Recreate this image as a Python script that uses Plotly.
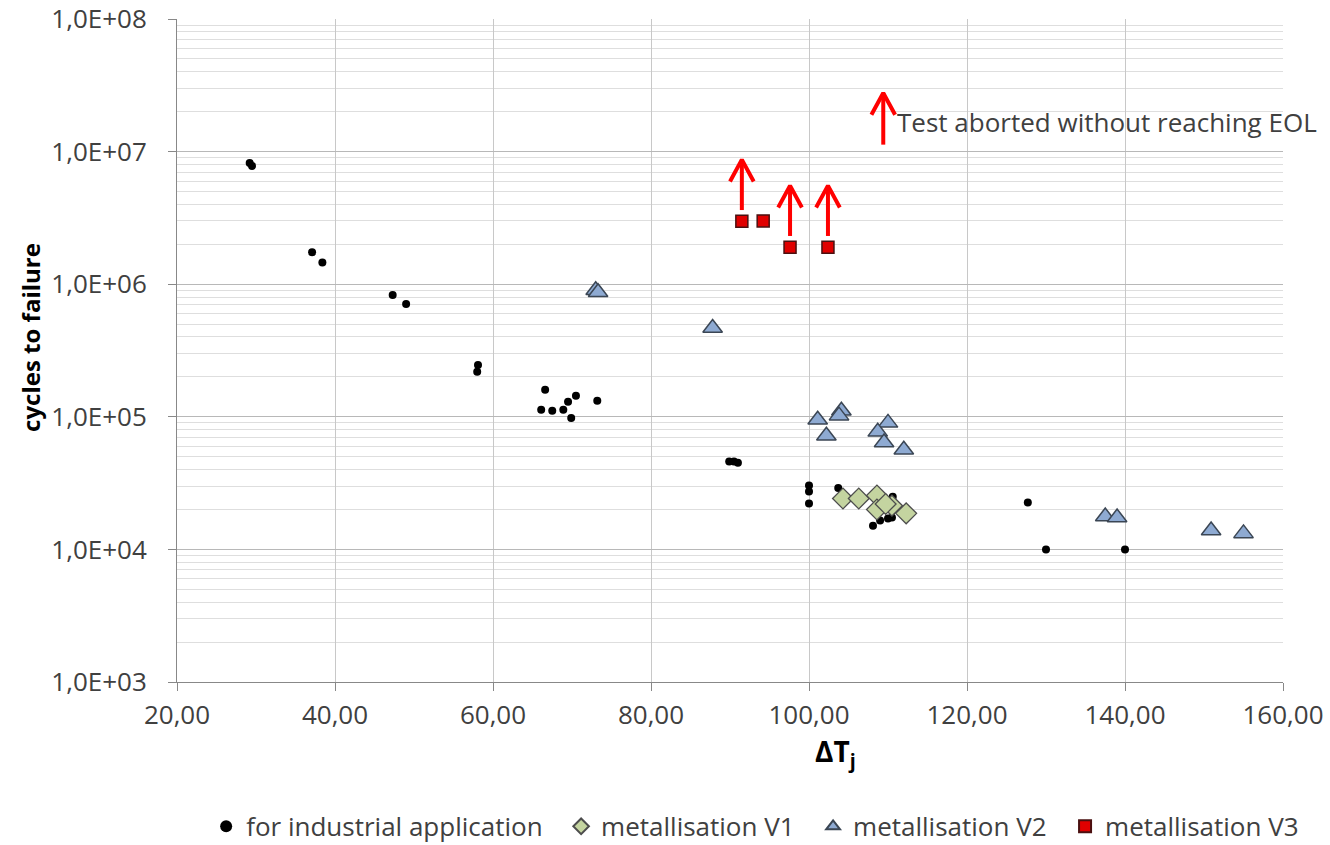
import math
import plotly.graph_objects as go

# ---- data ----
ind_x = [29.2, 29.5, 37.1, 38.4, 47.3, 49.0, 58.1, 58.0, 66.6, 66.1, 67.5, 68.9, 69.5, 70.5, 69.9, 73.2,
         89.9, 90.5, 91.0, 100.0, 100.0, 100.0, 103.7, 110.6, 108.1, 109.0, 110.0, 110.5,
         127.7, 130.0, 140.0]
ind_y = [8.2e6, 7.8e6, 1.74e6, 1.46e6, 8.3e5, 7.1e5, 2.46e5, 2.19e5, 1.6e5, 1.13e5, 1.11e5, 1.13e5, 1.30e5, 1.44e5, 9.8e4, 1.32e5,
         4.6e4, 4.6e4, 4.5e4, 3.03e4, 2.73e4, 2.22e4, 2.9e4, 2.5e4, 1.51e4, 1.65e4, 1.71e4, 1.74e4,
         2.26e4, 1.0e4, 1.0e4]

v1_x = [104.3, 106.3, 108.6, 110.5, 108.6, 112.3, 109.7]
v1_y = [2.42e4, 2.42e4, 2.55e4, 2.14e4, 2.0e4, 1.87e4, 2.2e4]

v2_x = [73.0, 73.3, 87.8, 101.1, 104.1, 103.8, 102.2, 110.0, 108.7, 109.5, 112.0, 137.5, 139.0, 150.9, 155.0]
v2_y = [9.0e5, 8.7e5, 4.67e5, 9.5e4, 1.11e5, 1.02e5, 7.2e4, 9.0e4, 7.7e4, 6.4e4, 5.65e4, 1.77e4, 1.74e4, 1.39e4, 1.32e4]

v3_x = [91.5, 94.2, 97.6, 102.4]
v3_y = [2.98e6, 3.0e6, 1.9e6, 1.9e6]
v3_aborted = [True, False, True, True]

series_names = ["for industrial application", "metallisation V1", "metallisation V2", "metallisation V3"]

x_ticks = [20, 40, 60, 80, 100, 120, 140, 160]
x_labels = ["20,00", "40,00", "60,00", "80,00", "100,00", "120,00", "140,00", "160,00"]
y_ticks = [1e3, 1e4, 1e5, 1e6, 1e7, 1e8]
y_labels = ["1,0E+03", "1,0E+04", "1,0E+05", "1,0E+06", "1,0E+07", "1,0E+08"]

note_text = "Test aborted without reaching EOL"
note_x = 109.4
note_y = 2.77e7

FONT = "Open Sans"
TXT = "#404040"
PAD = "\u00a0" * 2

fig = go.Figure()
fig.add_trace(go.Scatter(x=ind_x, y=ind_y, mode="markers", name=series_names[0] + PAD,
                         marker=dict(symbol="circle", size=8, color="black")))
fig.add_trace(go.Scatter(x=v1_x, y=v1_y, mode="markers", name=series_names[1] + PAD,
                         marker=dict(symbol="diamond", size=16, color="#c4d4a0",
                                     line=dict(color="#4d4d4d", width=1.3))))
fig.add_trace(go.Scatter(x=v2_x, y=v2_y, mode="markers", name=series_names[2] + PAD,
                         marker=dict(symbol="triangle-up", size=17, color="#8eaad2",
                                     line=dict(color="#3b4654", width=1.5))))
fig.add_trace(go.Scatter(x=v3_x, y=v3_y, mode="markers", name=series_names[3],
                         marker=dict(symbol="square", size=12, color="#e00000",
                                     line=dict(color="#4a1010", width=1.5))))


# chevron arrows (drawn in data space: log10 offsets above each aborted point)
def arrow_path(xc, log_bottom, log_tip, dx=1.5, dy=0.165):
    ys_lin = lambda v: 10 ** v
    return ([xc, xc, None, xc - dx, xc, xc + dx, None],
            [ys_lin(log_bottom), ys_lin(log_tip), None,
             ys_lin(log_tip - dy), ys_lin(log_tip), ys_lin(log_tip - dy), None])


ax_pts, ay_pts = [], []
for xx, yy, ab in zip(v3_x, v3_y, v3_aborted):
    if ab:
        px, py = arrow_path(xx, math.log10(yy) + 0.085, math.log10(yy) + 0.465)
        ax_pts += px
        ay_pts += py
# legend-note arrow
px, py = arrow_path(note_x, math.log10(note_y) - 0.39, math.log10(note_y))
ax_pts += px
ay_pts += py

fig.add_trace(go.Scatter(x=ax_pts, y=ay_pts, mode="lines", showlegend=False, hoverinfo="skip",
                         line=dict(color="#ff0000", width=4), connectgaps=False))

fig.add_annotation(x=note_x, y=math.log10(note_y) - 0.22, xref="x", yref="y", showarrow=False,
                   text=note_text, xanchor="left", yanchor="middle", xshift=12,
                   font=dict(family=FONT, size=26, color=TXT))

# axis titles as annotations (positioned like the reference)
fig.add_annotation(x=0.595, y=-0.107, xref="paper", yref="paper", showarrow=False,
                   text="<b>ΔT<sub>j</sub></b>", xanchor="center", yanchor="middle",
                   font=dict(family=FONT, size=28, color="#000000"))
fig.add_annotation(x=-0.132, y=0.519, xref="paper", yref="paper", showarrow=False,
                   text="<b>cycles to failure</b>", textangle=-90, xanchor="center", yanchor="middle",
                   font=dict(family=FONT, size=24, color="#000000"))

fig.update_layout(
    width=1330, height=845,
    margin=dict(l=177, r=47, t=19, b=163, autoexpand=False),
    plot_bgcolor="white", paper_bgcolor="white",
    font=dict(family=FONT, size=18, color=TXT),
    showlegend=True,
    legend=dict(orientation="h", xref="container", x=0.155, xanchor="left",
                yref="container", y=0.022, yanchor="middle",
                font=dict(family=FONT, size=26, color=TXT), itemsizing="constant",
                itemwidth=30, tracegroupgap=0),
    xaxis=dict(range=[20, 160], tickvals=x_ticks, ticktext=x_labels, automargin=False,
               showgrid=True, gridcolor="#c8c8c8", gridwidth=1,
               showline=True, linecolor="#888888", linewidth=1,
               ticks="outside", ticklen=8, tickcolor="#888888", ticklabelstandoff=2,
               zeroline=False, tickfont=dict(size=26), ticklabeloverflow="allow"),
    yaxis=dict(type="log", range=[3, 8], tickvals=y_ticks, ticktext=y_labels, automargin=False,
               showgrid=True, gridcolor="#b8b8b8", gridwidth=1,
               minor=dict(showgrid=True, gridcolor="#dedede", dtick="D1", ticks=""),
               showline=True, linecolor="#888888", linewidth=1,
               ticks="outside", ticklen=8, tickcolor="#888888", ticklabelstandoff=16,
               zeroline=False, tickfont=dict(size=26), ticklabeloverflow="allow"),
)

fig.write_html("out.html")
